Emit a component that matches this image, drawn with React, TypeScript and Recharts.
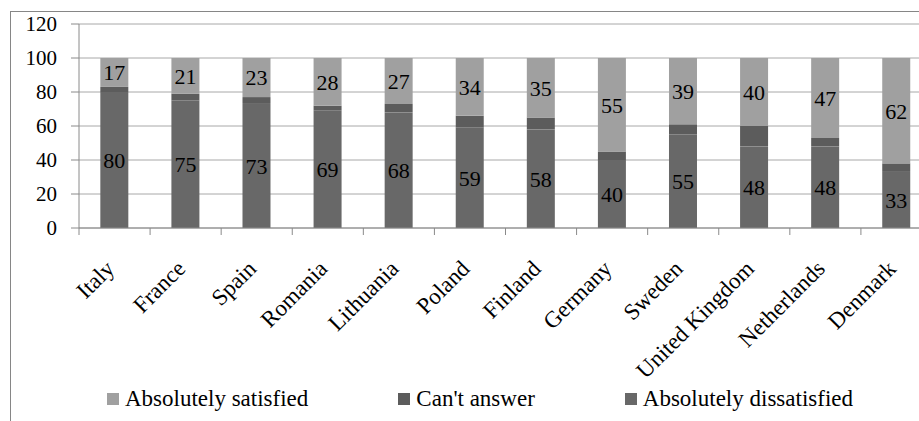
import React from "react";
import { BarChart, Bar, XAxis, YAxis, CartesianGrid, Legend, LabelList } from "recharts";

const categories = ["Italy", "France", "Spain", "Romania", "Lithuania", "Poland", "Finland", "Germany", "Sweden", "United Kingdom", "Netherlands", "Denmark"];
const dissatisfied = [80, 75, 73, 69, 68, 59, 58, 40, 55, 48, 48, 33];
const cantAnswer = [3, 4, 4, 3, 5, 7, 7, 5, 6, 12, 5, 5];
const satisfied = [17, 21, 23, 28, 27, 34, 35, 55, 39, 40, 47, 62];
const yTicks = [0, 20, 40, 60, 80, 100, 120];

const data = categories.map((c, i) => ({
  name: c,
  dissatisfied: dissatisfied[i],
  cantAnswer: cantAnswer[i],
  satisfied: satisfied[i],
}));

const FONT = "Liberation Serif";
const CHART_W = 960;
const CHART_H = 421;
const MARGIN = { top: 24, right: 28, left: 0, bottom: 0 };
const Y_W = 79;
const BAND = (CHART_W - Y_W - MARGIN.right) / categories.length;

const COLORS = {
  satisfied: "#a0a0a0",
  cantAnswer: "#5c5c5c",
  dissatisfied: "#686868",
};

const XTick = (props: any) => {
  const { x, y, payload, index } = props;
  const ax = x + 1;
  const ay = y + 42;
  const last = index === categories.length - 1;
  return (
    <g>
      <line x1={x - BAND / 2} x2={x - BAND / 2} y1={y} y2={y + 7} stroke="#8a8a8a" />
      {last && <line x1={x + BAND / 2} x2={x + BAND / 2} y1={y} y2={y + 7} stroke="#8a8a8a" />}
      <text
        x={ax}
        y={ay}
        textAnchor="end"
        transform={`rotate(-45, ${ax}, ${ay})`}
        fontSize={23}
        fontFamily={FONT}
        fill="#000"
      >
        {payload.value}
      </text>
    </g>
  );
};

const legendItems = [
  { key: "satisfied", label: "Absolutely satisfied", color: COLORS.satisfied },
  { key: "cantAnswer", label: "Can't answer", color: COLORS.cantAnswer },
  { key: "dissatisfied", label: "Absolutely dissatisfied", color: COLORS.dissatisfied },
];

const LegendContent = () => (
  <div style={{ display: "flex", justifyContent: "center", alignItems: "center", fontFamily: FONT, fontSize: 23, color: "#000" }}>
    {legendItems.map((it, i) => (
      <div key={it.key} style={{ display: "flex", alignItems: "center", marginRight: i < legendItems.length - 1 ? 90 : 0 }}>
        <span style={{ display: "inline-block", width: 12, height: 12, background: it.color, marginRight: 6 }} />
        <span style={{ whiteSpace: "nowrap" }}>{it.label}</span>
      </div>
    ))}
  </div>
);

export default function App() {
  return (
    <div style={{ position: "absolute", left: 0, top: 0, width: 919, height: 421, overflow: "hidden", background: "#fff", fontFamily: FONT }}>
      <div style={{ position: "absolute", left: 10, top: 11, width: 1000, height: 600, border: "1px solid #868686", boxSizing: "border-box" }} />
      <div style={{ position: "absolute", left: 0, top: 0 }}>
        <BarChart width={CHART_W} height={CHART_H} data={data} margin={MARGIN} barCategoryGap="30%">
          <CartesianGrid vertical={false} stroke="#a8a8a8" />
          <XAxis
            dataKey="name"
            height={CHART_H - 228}
            tickSize={0}
            tickMargin={0}
            tickLine={false}
            axisLine={{ stroke: "#8a8a8a" }}
            interval={0}
            tick={<XTick />}
          />
          <YAxis
            width={Y_W}
            domain={[0, 120]}
            ticks={yTicks}
            interval={0}
            tickSize={8}
            tickMargin={14}
            axisLine={{ stroke: "#8a8a8a" }}
            tickLine={{ stroke: "#8a8a8a" }}
            tick={{ fontSize: 21, fontFamily: FONT, fill: "#000" }}
          />
          <Legend
            layout="horizontal"
            verticalAlign="middle"
            align="center"
            content={<LegendContent />}
            wrapperStyle={{ top: 386, left: 0, width: CHART_W }}
          />
          <Bar dataKey="dissatisfied" stackId="a" fill={COLORS.dissatisfied} isAnimationActive={false} name="Absolutely dissatisfied">
            <LabelList dataKey="dissatisfied" position="center" fill="#000" fontSize={22} fontFamily={FONT} />
          </Bar>
          <Bar dataKey="cantAnswer" stackId="a" fill={COLORS.cantAnswer} isAnimationActive={false} name="Can't answer" />
          <Bar dataKey="satisfied" stackId="a" fill={COLORS.satisfied} isAnimationActive={false} name="Absolutely satisfied">
            <LabelList dataKey="satisfied" position="center" fill="#000" fontSize={22} fontFamily={FONT} />
          </Bar>
        </BarChart>
      </div>
    </div>
  );
}
